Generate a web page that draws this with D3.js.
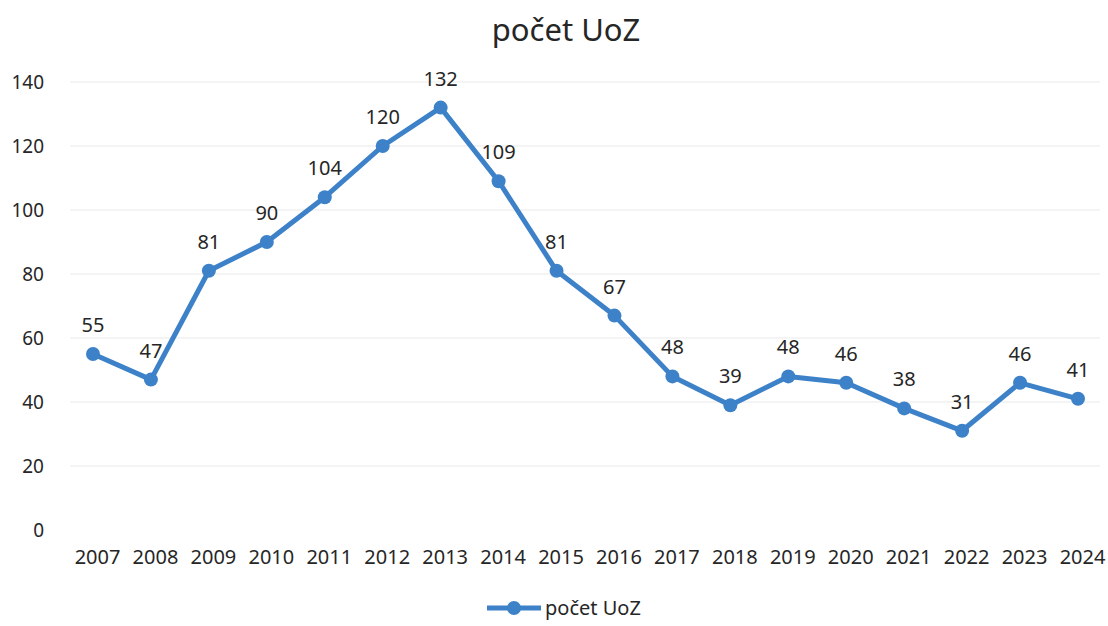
<!DOCTYPE html>
<html>
<head>
<meta charset="utf-8">
<script src="https://cdn.jsdelivr.net/npm/d3@7"></script>
<style>
  body { margin: 0; background: #fff; }
  text { font-family: "Noto Sans", "Open Sans", sans-serif; fill: #262626; }
</style>
</head>
<body>
<svg id="chart"></svg>
<script>
var years  = ["2007","2008","2009","2010","2011","2012","2013","2014","2015",
              "2016","2017","2018","2019","2020","2021","2022","2023","2024"];
var values = [55,47,81,90,104,120,132,109,81,67,48,39,48,46,38,31,46,41];
var yTicks = [0,20,40,60,80,100,120,140];
var seriesName = "počet UoZ";

var W = 1108, H = 626, blue = "#3d82c8";
var svg = d3.select("#chart").attr("width", W).attr("height", H);

// scales
var x = d3.scalePoint().domain(years).range([93, 1078]);
var y = d3.scaleLinear().domain([0, 140]).range([530, 82]);

// faint gridlines
svg.append("g").selectAll("line").data(yTicks.slice(1)).enter().append("line")
    .attr("x1", 70).attr("x2", 1100)
    .attr("y1", function(d){return y(d);}).attr("y2", function(d){return y(d);})
    .attr("stroke", "#f1f1f1").attr("stroke-width", 1.5);

// y axis labels
var yAxis = d3.axisLeft(y).tickValues(yTicks).tickSize(0).tickPadding(0);
svg.append("g").attr("transform", "translate(44,0)").call(yAxis)
    .call(function(g){ g.select(".domain").remove(); })
    .selectAll("text").style("font-size", "19px")
    .style("font-family", "\"Noto Sans\", sans-serif").attr("fill", "#262626");

// x axis labels
var xAxis = d3.axisBottom(x).tickSize(0).tickPadding(0);
svg.append("g").attr("transform", "translate(4,550)").call(xAxis)
    .call(function(g){ g.select(".domain").remove(); })
    .selectAll("text").style("font-size", "20px")
    .style("font-family", "\"Noto Sans\", sans-serif").attr("fill", "#262626");

// line
var line = d3.line()
    .x(function(d, i){ return x(years[i]); })
    .y(function(d){ return y(d); });
svg.append("path").datum(values)
    .attr("d", line).attr("fill", "none")
    .attr("stroke", blue).attr("stroke-width", 5)
    .attr("stroke-linejoin", "round");

// markers
svg.append("g").selectAll("circle").data(values).enter().append("circle")
    .attr("cx", function(d, i){ return x(years[i]); })
    .attr("cy", function(d){ return y(d); })
    .attr("r", 7).attr("fill", blue);

// data labels
svg.append("g").selectAll("text").data(values).enter().append("text")
    .attr("x", function(d, i){ return x(years[i]); })
    .attr("y", function(d){ return y(d) - 22; })
    .attr("text-anchor", "middle").style("font-size", "20px")
    .text(function(d){ return d; });

// title
svg.append("text").attr("x", 566).attr("y", 41)
    .attr("text-anchor", "middle").style("font-size", "31px")
    .text(seriesName);

// legend
var lg = svg.append("g").attr("transform", "translate(487,608)");
lg.append("line").attr("x1", 0).attr("x2", 54).attr("y1", 0).attr("y2", 0)
    .attr("stroke", blue).attr("stroke-width", 5);
lg.append("circle").attr("cx", 27).attr("cy", 0).attr("r", 7).attr("fill", blue);
lg.append("text").attr("x", 58).attr("y", 7).style("font-size", "20px").text(seriesName);
</script>
</body>
</html>
